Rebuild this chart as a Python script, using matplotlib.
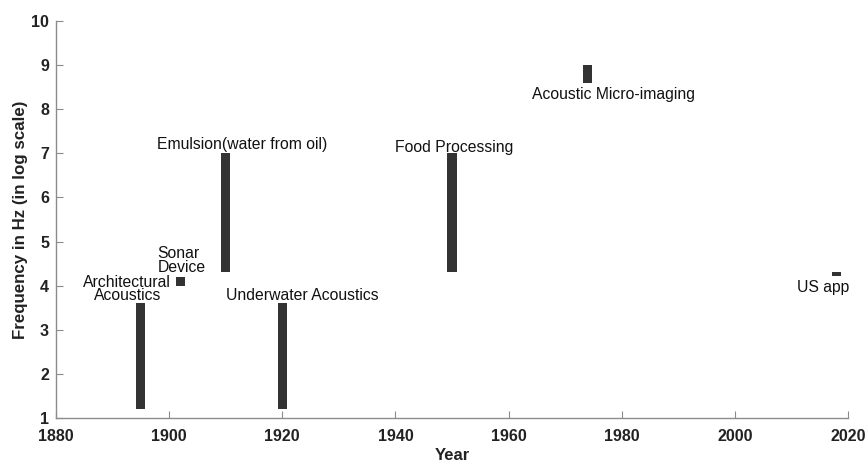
import matplotlib
matplotlib.use("Agg")
import matplotlib.pyplot as plt

plt.rcParams['font.family'] = ['Liberation Sans', 'DejaVu Sans']

# applications of ultrasound: year, low / high frequency (log10 Hz)
labels = ["Architectural\nAcoustics", "Sonar\nDevice", "Emulsion(water from oil)",
          "Underwater Acoustics", "Food Processing", "Acoustic Micro-imaging", "US app"]
years = [1895, 1902, 1910, 1920, 1950, 1974, 2018]
f_low = [1.2, 4.0, 4.3, 1.2, 4.3, 8.6, 4.22]
f_high = [3.6, 4.2, 7.0, 3.6, 7.0, 9.0, 4.3]

# text placement for each label (x, y, ha, va)
label_pos = [
    (1892.6, 3.6, 'center', 'bottom'),
    (1897.9, 4.25, 'left', 'bottom'),
    (1897.9, 7.02, 'left', 'bottom'),
    (1910.0, 3.6, 'left', 'bottom'),
    (1940.0, 6.97, 'left', 'bottom'),
    (1964.1, 8.5, 'left', 'top'),
    (2011.0, 4.12, 'left', 'top'),
]

fig = plt.figure(figsize=(8.67, 4.62), dpi=100)
ax = fig.add_axes([0.0646, 0.0952, 0.9135, 0.8593])

bar_w = 1.6
heights = [h - l for l, h in zip(f_low, f_high)]
ax.bar(years, heights, bottom=f_low, width=bar_w, color='#333333', edgecolor='none')

for txt, (x, y, ha, va) in zip(labels, label_pos):
    ax.text(x, y, txt, ha=ha, va=va, fontsize=11.3, color='#111111',
            linespacing=0.85, multialignment='center' if ha == 'center' else 'left')

ax.set_xlim(1880, 2020)
ax.set_ylim(1, 10)
ax.set_xticks(range(1880, 2021, 20))
ax.set_yticks(range(1, 11))

for side in ['top', 'right']:
    ax.spines[side].set_visible(False)
for side in ['left', 'bottom']:
    ax.spines[side].set_color('#8c8c8c')
    ax.spines[side].set_linewidth(1.0)

ax.tick_params(direction='in', length=5, color='#8c8c8c', labelsize=11.5,
               labelcolor='#222222')
ax.tick_params(axis='x', pad=8)
ax.tick_params(axis='y', pad=5)
for lbl in ax.get_xticklabels() + ax.get_yticklabels():
    lbl.set_fontweight('bold')

ax.set_xlabel('Year', fontsize=12, fontweight='bold', color='#222222', labelpad=3)
ax.set_ylabel('Frequency in Hz (in log scale)', fontsize=12.2, fontweight='bold',
              color='#222222', labelpad=2)

fig.savefig('out.png', dpi=100)
